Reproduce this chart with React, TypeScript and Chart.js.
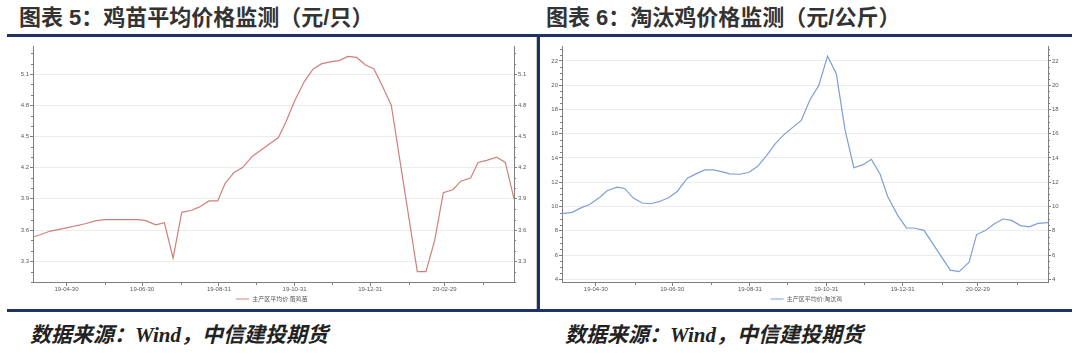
import React, { useEffect, useRef } from 'react';
import { Chart, registerables } from 'chart.js';

Chart.register(...registerables);

// ---------- data ----------
const DATE_BASE = '2019-04-30';
const AXIS_START = '2019-04-03';
const AXIS_END = '2020-04-25';

const xTickDates = ['2019-04-30', '2019-06-30', '2019-08-31', '2019-10-31', '2019-12-31', '2020-02-29'];
const xTickLabels = ['19-04-30', '19-06-30', '19-08-31', '19-10-31', '19-12-31', '20-02-29'];
const xMinorDates = ['2019-05-31', '2019-07-31', '2019-09-30', '2019-11-30', '2020-01-31', '2020-03-31'];

const chickLabel = '主产区平均价:蛋鸡苗';
const chickDates = [
  '2019-04-03', '2019-04-17', '2019-04-30', '2019-05-15', '2019-05-24', '2019-05-31', '2019-06-27', '2019-07-03',
  '2019-07-11', '2019-07-18', '2019-07-25', '2019-08-01', '2019-08-09', '2019-08-15', '2019-08-23', '2019-08-30',
  '2019-09-05', '2019-09-12', '2019-09-19', '2019-09-27', '2019-10-04', '2019-10-11', '2019-10-18', '2019-10-24',
  '2019-10-31', '2019-11-08', '2019-11-15', '2019-11-22', '2019-11-30', '2019-12-06', '2019-12-13', '2019-12-20',
  '2019-12-27', '2020-01-03', '2020-01-10', '2020-01-17', '2020-02-07', '2020-02-14', '2020-02-21', '2020-02-28',
  '2020-03-07', '2020-03-13', '2020-03-21', '2020-03-27', '2020-04-03', '2020-04-11', '2020-04-18', '2020-04-25',
];
const chickValues = [
  3.53, 3.59, 3.62, 3.66, 3.69, 3.70, 3.70, 3.69,
  3.65, 3.67, 3.33, 3.77, 3.79, 3.82, 3.88, 3.88,
  4.05, 4.15, 4.20, 4.31, 4.37, 4.43, 4.49, 4.64,
  4.84, 5.03, 5.15, 5.20, 5.22, 5.23, 5.27, 5.26,
  5.19, 5.15, 4.98, 4.80, 3.20, 3.20, 3.50, 3.96,
  3.99, 4.07, 4.10, 4.25, 4.27, 4.30, 4.25, 3.90,
];
const chickYTicks = [3.3, 3.6, 3.9, 4.2, 4.5, 4.8, 5.1];
const chickYMin = 3.1;
const chickYMax = 5.37;
const chickMinorStep = 0.1;

const henLabel = '主产区平均价:淘汰鸡';
const henDates = [
  '2019-04-03', '2019-04-11', '2019-04-19', '2019-04-25', '2019-05-03', '2019-05-09', '2019-05-17', '2019-05-23',
  '2019-05-30', '2019-06-06', '2019-06-13', '2019-06-20', '2019-06-27', '2019-07-04', '2019-07-12', '2019-07-19',
  '2019-07-26', '2019-08-02', '2019-08-09', '2019-08-15', '2019-08-23', '2019-08-30', '2019-09-06', '2019-09-13',
  '2019-09-20', '2019-09-27', '2019-10-04', '2019-10-11', '2019-10-18', '2019-10-25', '2019-11-01', '2019-11-08',
  '2019-11-15', '2019-11-22', '2019-11-29', '2019-12-06', '2019-12-13', '2019-12-19', '2019-12-27', '2020-01-03',
  '2020-01-10', '2020-01-17', '2020-02-07', '2020-02-14', '2020-02-22', '2020-02-28', '2020-03-06', '2020-03-13',
  '2020-03-20', '2020-03-27', '2020-04-03', '2020-04-10', '2020-04-17', '2020-04-25',
];
const henValues = [
  9.41, 9.52, 9.93, 10.17, 10.75, 11.30, 11.60, 11.49,
  10.70, 10.29, 10.23, 10.42, 10.72, 11.24, 12.34, 12.69,
  13.02, 13.02, 12.85, 12.69, 12.66, 12.80, 13.29, 14.16,
  15.15, 15.91, 16.50, 17.10, 18.80, 19.98, 22.39, 20.94,
  16.30, 13.20, 13.43, 13.89, 12.66, 10.83, 9.27, 8.24,
  8.21, 8.04, 4.76, 4.63, 5.42, 7.69, 8.02, 8.56,
  8.97, 8.86, 8.43, 8.32, 8.61, 8.67,
];
const henYTicks = [4, 6, 8, 10, 12, 14, 16, 18, 20, 22];
const henYMin = 3.78;
const henYMax = 23.23;
const henMinorStep = 0.5;

// ---------- styling ----------
const NAVY = '#1d3366';
const RED = '#d0807a';
const BLUE = '#7f9fd6';
const AXIS_COLOR = '#808080';
const TICK_TEXT = '#595959';
const SMALL_FONT = '"Liberation Sans", "Noto Sans CJK SC", sans-serif';

const day = (d: string) => (Date.parse(d) - Date.parse(DATE_BASE)) / 86400000;

const minorTicksPlugin = {
  id: 'minorTicks',
  afterDraw(chart: any, _args: any, o: any) {
    const { ctx } = chart;
    ctx.save();
    ctx.strokeStyle = o.color;
    ctx.lineWidth = 1;
    ctx.beginPath();
    const xs = chart.scales.x;
    for (const v of o.x) {
      const p = Math.round(xs.getPixelForValue(v)) + 0.5;
      ctx.moveTo(p, xs.top);
      ctx.lineTo(p, xs.top + o.xLen);
    }
    const yl = chart.scales.y;
    const yr = chart.scales.y2;
    for (const v of o.y) {
      const p = Math.round(yl.getPixelForValue(v)) + 0.5;
      ctx.moveTo(yl.right, p);
      ctx.lineTo(yl.right - o.yLen, p);
      ctx.moveTo(yr.left, p);
      ctx.lineTo(yr.left + o.yLen, p);
    }
    ctx.stroke();
    ctx.restore();
  },
};

function minorValues(min: number, max: number, step: number, majors: number[]) {
  const out: number[] = [];
  const start = Math.ceil(min / step - 1e-6);
  const end = Math.floor(max / step + 1e-6);
  for (let k = start; k <= end; k++) {
    const v = +(k * step).toFixed(4);
    if (!majors.some((m) => Math.abs(m - v) < 1e-6)) out.push(v);
  }
  return out;
}

interface Spec {
  label: string;
  color: string;
  dates: string[];
  values: number[];
  yMin: number;
  yMax: number;
  yTicks: number[];
  minorStep: number;
  decimals: number;
  leftW: number;
  rightW: number;
  topPad: number;
}

function buildConfig(s: Spec): any {
  const tickFont = { family: SMALL_FONT, size: 6 };
  const yTickCb = (v: any) => Number(v).toFixed(s.decimals);
  return {
    type: 'line',
    data: {
      datasets: [
        {
          label: s.label,
          data: s.dates.map((d, i) => ({ x: day(d), y: s.values[i] })),
          borderColor: s.color,
          backgroundColor: s.color,
          borderWidth: 1.2,
          pointRadius: 0,
          tension: 0,
          fill: false,
          yAxisID: 'y',
        },
      ],
    },
    options: {
      animation: false,
      responsive: false,
      maintainAspectRatio: false,
      devicePixelRatio: 1,
      layout: { padding: { top: s.topPad, left: 0, right: 0, bottom: 0 } },
      scales: {
        x: {
          type: 'linear',
          min: day(AXIS_START),
          max: day(AXIS_END),
          afterBuildTicks: (sc: any) => {
            sc.ticks = xTickDates.map((d) => ({ value: day(d) }));
          },
          afterFit: (sc: any) => {
            sc.height = 14;
          },
          ticks: {
            autoSkip: false,
            maxRotation: 0,
            padding: 0,
            color: TICK_TEXT,
            font: tickFont,
            callback: (_v: any, i: number) => xTickLabels[i],
          },
          grid: { drawOnChartArea: false, drawTicks: true, tickLength: 4, tickColor: AXIS_COLOR },
          border: { display: true, color: AXIS_COLOR, width: 1 },
        },
        y: {
          type: 'linear',
          position: 'left',
          min: s.yMin,
          max: s.yMax,
          afterBuildTicks: (sc: any) => {
            sc.ticks = s.yTicks.map((v) => ({ value: v }));
          },
          afterFit: (sc: any) => {
            sc.width = s.leftW;
          },
          ticks: { autoSkip: false, padding: 1, color: TICK_TEXT, font: tickFont, callback: yTickCb },
          grid: { drawOnChartArea: true, color: '#ececec', drawTicks: true, tickLength: 3, tickColor: AXIS_COLOR },
          border: { display: true, color: AXIS_COLOR, width: 1 },
        },
        y2: {
          type: 'linear',
          position: 'right',
          display: true,
          min: s.yMin,
          max: s.yMax,
          afterBuildTicks: (sc: any) => {
            sc.ticks = s.yTicks.map((v) => ({ value: v }));
          },
          afterFit: (sc: any) => {
            sc.width = s.rightW;
          },
          ticks: { autoSkip: false, padding: 1, color: TICK_TEXT, font: tickFont, callback: yTickCb },
          grid: { drawOnChartArea: false, drawTicks: true, tickLength: 3, tickColor: AXIS_COLOR },
          border: { display: true, color: AXIS_COLOR, width: 1 },
        },
      },
      plugins: {
        title: { display: false },
        tooltip: { enabled: false },
        legend: {
          display: true,
          position: 'bottom',
          labels: {
            boxWidth: 13,
            boxHeight: 1,
            padding: 0,
            color: TICK_TEXT,
            font: { family: SMALL_FONT, size: 6 },
            generateLabels: (chart: any) =>
              Chart.defaults.plugins.legend.labels.generateLabels(chart).map((l: any) => ({ ...l, lineWidth: 0 })),
          },
        },
        minorTicks: {
          color: AXIS_COLOR,
          x: xMinorDates.map(day),
          xLen: 3,
          y: minorValues(s.yMin, s.yMax, s.minorStep, s.yTicks),
          yLen: 2,
        },
      },
    },
    plugins: [minorTicksPlugin],
  };
}

function LineChart({ spec, left, top, width, height }: { spec: Spec; left: number; top: number; width: number; height: number }) {
  const ref = useRef<HTMLCanvasElement>(null);
  useEffect(() => {
    if (!ref.current) return;
    const chart = new Chart(ref.current, buildConfig(spec));
    return () => chart.destroy();
  }, []);
  return (
    <canvas
      ref={ref}
      width={width}
      height={height}
      style={{ position: 'absolute', left, top, width, height, display: 'block' }}
    />
  );
}

const chickSpec: Spec = {
  label: chickLabel,
  color: RED,
  dates: chickDates,
  values: chickValues,
  yMin: chickYMin,
  yMax: chickYMax,
  yTicks: chickYTicks,
  minorStep: chickMinorStep,
  decimals: 1,
  leftW: 25,
  rightW: 22,
  topPad: 8,
};

const henSpec: Spec = {
  label: henLabel,
  color: BLUE,
  dates: henDates,
  values: henValues,
  yMin: henYMin,
  yMax: henYMax,
  yTicks: henYTicks,
  minorStep: henMinorStep,
  decimals: 0,
  leftW: 21,
  rightW: 24,
  topPad: 8,
};

const titleStyle: React.CSSProperties = {
  position: 'absolute',
  top: 5,
  fontSize: 22,
  lineHeight: '26px',
  fontWeight: 'bold',
  color: '#333',
  whiteSpace: 'nowrap',
  fontFamily: '"Liberation Sans", "Noto Sans CJK SC", sans-serif',
};

const footStyle: React.CSSProperties = {
  position: 'absolute',
  top: 322,
  fontSize: 21,
  lineHeight: '26px',
  fontWeight: 'bold',
  fontStyle: 'italic',
  color: '#222',
  whiteSpace: 'nowrap',
  fontFamily: '"Liberation Serif", "Noto Sans CJK SC", serif',
};

export default function App() {
  return (
    <div style={{ position: 'absolute', left: 0, top: 0, width: 1080, height: 354, background: '#fff', overflow: 'hidden' }}>
      <div style={{ ...titleStyle, left: 19 }}>图表 5：鸡苗平均价格监测（元/只）</div>
      <div style={{ ...titleStyle, left: 546 }}>图表 6：淘汰鸡价格监测（元/公斤）</div>

      <LineChart spec={chickSpec} left={8} top={38} width={528} height={274} />
      <LineChart spec={henSpec} left={541} top={38} width={531} height={274} />

      <div style={{ position: 'absolute', left: 536, top: 37, width: 1, height: 272, background: '#c8c8c8' }} />
      <div style={{ position: 'absolute', left: 7, top: 34, width: 1065, height: 3, background: NAVY }} />
      <div style={{ position: 'absolute', left: 7, top: 309, width: 1065, height: 3, background: NAVY }} />
      <div style={{ position: 'absolute', left: 537, top: 34, width: 3, height: 278, background: NAVY }} />

      <div style={{ ...footStyle, left: 30 }}>数据来源：Wind，中信建投期货</div>
      <div style={{ ...footStyle, left: 565 }}>数据来源：Wind，中信建投期货</div>
    </div>
  );
}
